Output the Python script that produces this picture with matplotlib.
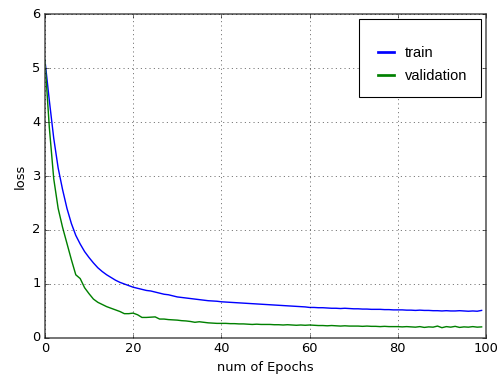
import numpy as np
import matplotlib
matplotlib.use("Agg")
import matplotlib.pyplot as plt

# loss values, one per epoch (0..99)
train_loss = [
    5.15, 4.40, 3.70, 3.15, 2.75, 2.40, 2.12, 1.90, 1.74, 1.60,
    1.49, 1.39, 1.30, 1.23, 1.17, 1.12, 1.07, 1.03, 1.00, 0.97,
    0.94, 0.92, 0.90, 0.88, 0.87, 0.85, 0.83, 0.81, 0.80, 0.78,
    0.76, 0.75, 0.74, 0.73, 0.72, 0.71, 0.70, 0.69, 0.685, 0.68,
    0.67, 0.665, 0.66, 0.655, 0.65, 0.645, 0.64, 0.635, 0.63, 0.625,
    0.62, 0.615, 0.61, 0.605, 0.60, 0.595, 0.59, 0.585, 0.58, 0.575,
    0.565, 0.565, 0.56, 0.56, 0.555, 0.55, 0.55, 0.545, 0.55, 0.545,
    0.54, 0.54, 0.535, 0.535, 0.53, 0.53, 0.53, 0.525, 0.525, 0.52,
    0.52, 0.52, 0.515, 0.515, 0.51, 0.515, 0.51, 0.51, 0.505, 0.505,
    0.50, 0.505, 0.50, 0.50, 0.505, 0.50, 0.495, 0.50, 0.495, 0.51,
]
val_loss = [
    5.15, 3.90, 2.95, 2.40, 2.05, 1.75, 1.45, 1.17, 1.10, 0.93,
    0.82, 0.72, 0.66, 0.62, 0.58, 0.55, 0.52, 0.49, 0.45, 0.45,
    0.46, 0.43, 0.38, 0.38, 0.385, 0.39, 0.35, 0.35, 0.34, 0.335,
    0.33, 0.32, 0.315, 0.305, 0.29, 0.30, 0.29, 0.28, 0.275, 0.27,
    0.27, 0.27, 0.265, 0.265, 0.26, 0.26, 0.255, 0.25, 0.255, 0.25,
    0.25, 0.25, 0.245, 0.245, 0.24, 0.245, 0.24, 0.235, 0.24, 0.235,
    0.24, 0.235, 0.23, 0.23, 0.225, 0.23, 0.225, 0.22, 0.225, 0.22,
    0.22, 0.22, 0.215, 0.22, 0.215, 0.215, 0.21, 0.215, 0.21, 0.21,
    0.21, 0.205, 0.21, 0.205, 0.20, 0.21, 0.195, 0.205, 0.20, 0.22,
    0.19, 0.21, 0.20, 0.215, 0.195, 0.205, 0.20, 0.21, 0.20, 0.205,
]
epochs = np.arange(len(train_loss))

plt.style.use("classic")
fig = plt.figure(figsize=(499 / 78.0, 381 / 78.0), dpi=78)
fig.patch.set_facecolor("white")
ax = fig.add_axes([0.09, 0.113, 0.884, 0.85])

ax.plot(epochs, train_loss, "b", lw=1.3, label="train")
ax.plot(epochs, val_loss, "g", lw=1.3, label="validation")

ax.set_xlim(0, 100)
ax.set_ylim(0, 6)
ax.set_xlabel("num of Epochs")
ax.set_ylabel("loss")
ax.grid(True)
for sp in ax.spines.values():
    sp.set_linewidth(1.4)
    sp.set_color("0.3")

leg = ax.legend(loc="upper right", borderaxespad=0.35, handlelength=1.7,
                handletextpad=0.45, labelspacing=0.62, borderpad=0.95,
                title=" ", title_fontsize=3.5,
                prop={"family": "Liberation Sans", "size": 13.5})
for h in leg.get_lines():
    h.set_linewidth(2.5)
leg.get_frame().set_linewidth(1.0)

fig.savefig("out.png", dpi=78, facecolor="white")
